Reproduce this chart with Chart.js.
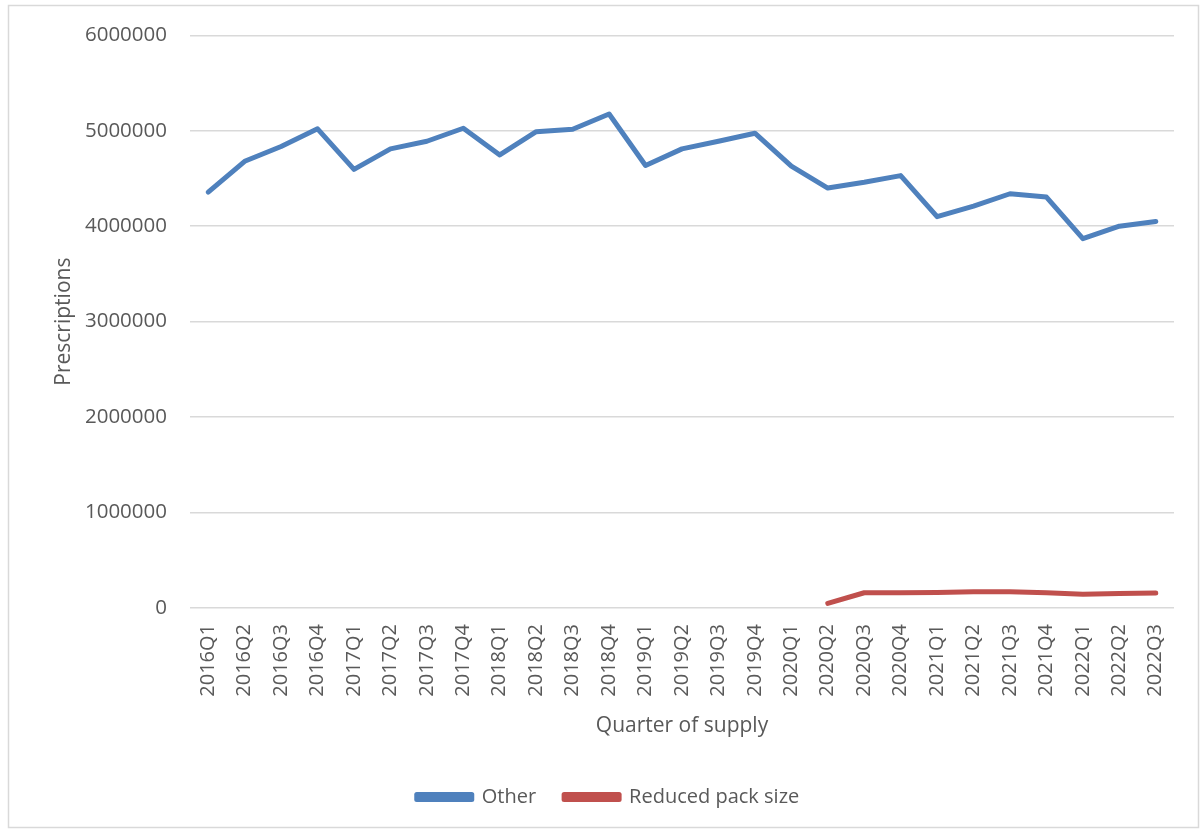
<!DOCTYPE html>
<html>
<head>
<meta charset="utf-8">
<script src="https://cdn.jsdelivr.net/npm/chart.js@4/dist/chart.umd.min.js"></script>
<style>
  html, body { margin: 0; padding: 0; background: #fff; }
  #wrap { position: relative; width: 1202px; height: 829px; }
</style>
</head>
<body>
<div id="wrap"><canvas id="c" width="1202" height="829"></canvas></div>
<script>
const categories = ["2016Q1","2016Q2","2016Q3","2016Q4","2017Q1","2017Q2","2017Q3","2017Q4","2018Q1","2018Q2","2018Q3","2018Q4","2019Q1","2019Q2","2019Q3","2019Q4","2020Q1","2020Q2","2020Q3","2020Q4","2021Q1","2021Q2","2021Q3","2021Q4","2022Q1","2022Q2","2022Q3"];
const otherValues = [4357000,4680000,4835000,5020000,4595000,4810000,4890000,5026000,4747000,4990000,5016000,5176000,4636000,4810000,4890000,4974000,4630000,4400000,4460000,4530000,4100000,4210000,4340000,4305000,3870000,4000000,4050000];
const reducedValues = [null,null,null,null,null,null,null,null,null,null,null,null,null,null,null,null,null,49000,160000,160000,163000,170000,170000,160000,143000,153000,157000];
const yTicks = [0,1000000,2000000,3000000,4000000,5000000,6000000];

const textColor = '#595959';
const fontFamily = '"Open Sans", "Liberation Sans", sans-serif';

const borderPlugin = {
  id: 'outerBorder',
  beforeDraw(chart) {
    const ctx = chart.ctx;
    ctx.save();
    ctx.fillStyle = '#fff';
    ctx.fillRect(0, 0, chart.width, chart.height);
    ctx.strokeStyle = '#d9d9d9';
    ctx.lineWidth = 1.5;
    ctx.strokeRect(8.5, 5.5, 1190, 822);
    ctx.restore();
  },
  afterLayout(chart) {
    if (chart.legend) {
      chart.legend.left += 21;
      chart.legend.right += 21;
    }
  }
};

new Chart(document.getElementById('c'), {
  type: 'line',
  data: {
    labels: categories,
    datasets: [
      { label: 'Other', data: otherValues, borderColor: '#4f81bd', backgroundColor: '#4f81bd',
        borderWidth: 5, pointRadius: 0, tension: 0, borderCapStyle: 'round', borderJoinStyle: 'round' },
      { label: 'Reduced pack size', data: reducedValues, borderColor: '#c0504d', backgroundColor: '#c0504d',
        borderWidth: 5, pointRadius: 0, tension: 0, borderCapStyle: 'round', borderJoinStyle: 'round' }
    ]
  },
  options: {
    responsive: false,
    animation: false,
    layout: { padding: { top: 34, left: 0, right: 28, bottom: 12 } },
    plugins: {
      tooltip: { enabled: false },
      legend: {
        position: 'bottom',
        labels: {
          boxWidth: 55, boxHeight: 5, padding: 28,
          color: textColor,
          font: { family: fontFamily, size: 20 }
        }
      }
    },
    scales: {
      x: {
        offset: true,
        grid: { display: false },
        border: { display: false },
        ticks: { color: textColor, font: { family: fontFamily, size: 20 }, maxRotation: 90, minRotation: 90, autoSkip: false, padding: 8 },
        title: { display: true, text: 'Quarter of supply', color: textColor, font: { family: fontFamily, size: 21 }, padding: { top: 4, bottom: 20 } },
        afterFit(scale) { scale.height = 151; }
      },
      y: {
        min: 0, max: 6000000,
        afterBuildTicks(scale) { scale.ticks = yTicks.map(v => ({ value: v })); },
        grid: { color: '#d9d9d9', lineWidth: 1.5, drawTicks: false },
        border: { display: false },
        ticks: { color: textColor, font: { family: fontFamily, size: 20.5 }, padding: 23, callback: v => String(v) },
        title: { display: true, text: 'Prescriptions', color: textColor, font: { family: fontFamily, size: 21 }, padding: { top: 51, bottom: 0 } },
        afterFit(scale) { scale.width = 190; }
      }
    }
  },
  plugins: [borderPlugin]
});
</script>
</body>
</html>
